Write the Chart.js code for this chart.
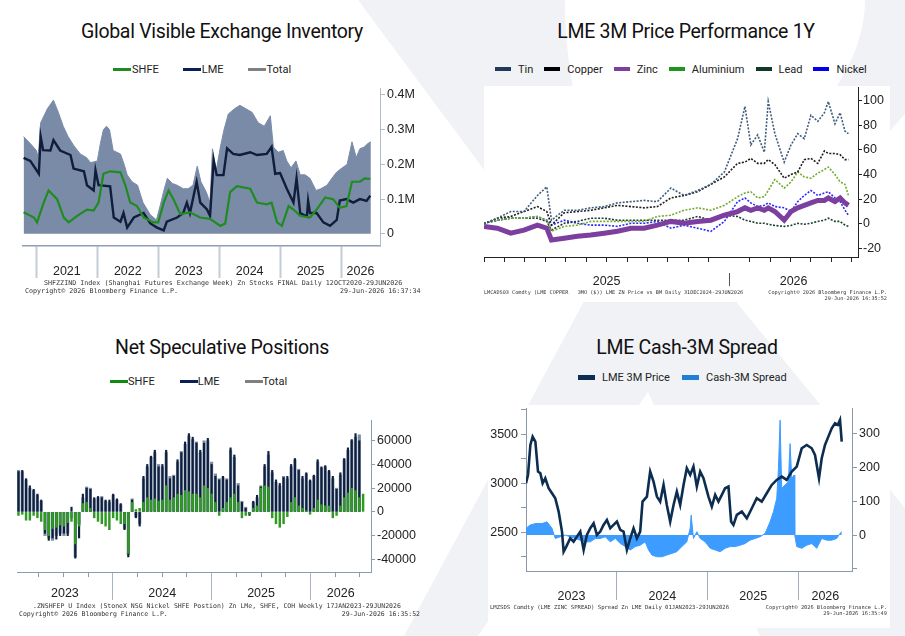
<!DOCTYPE html>
<html>
<head>
<meta charset="utf-8">
<script src="https://cdn.jsdelivr.net/npm/chart.js@4.4.1/dist/chart.umd.min.js"></script>
<style>
html, body { margin: 0; padding: 0; background: #fff; }
body { width: 905px; height: 636px; position: relative; overflow: hidden; font-family: "Liberation Sans", Arial, sans-serif; }
.bg { position: absolute; left: 0; top: 0; }
.box { position: absolute; background: #fff; }
.title { position: absolute; width: 450px; height: 24px; line-height: 24px; text-align: center; font-family: Roboto, sans-serif; font-size: 19.5px; color: #111; letter-spacing: -0.3px; white-space: nowrap; }
.legend { position: absolute; height: 14px; display: flex; align-items: center; font-family: Roboto, sans-serif; font-size: 11px; color: #222; white-space: nowrap; }
.legend .item { display: flex; align-items: center; }
.legend i { display: inline-block; }
.foot { position: absolute; font-family: "DejaVu Sans Mono", monospace; color: #333; white-space: nowrap; line-height: 1; }
canvas { position: absolute; }
</style>
</head>
<body>

<svg class="bg" width="905" height="636">
  <g fill="#f0f2f5">
    <path d="M358,0 L905,0 L905,114 L737,303 L583,303 Z"/>
    <path d="M583,303 L737,303 L1010,636 L404,636 Z"/>
  </g>
  <path fill="#fff" d="M565,0 L865,0 C865,110 720,200 660,255 C600,200 565,110 565,0 Z"/>
  <path fill="#fff" d="M648,392 L760,636 L478,636 Z"/>
</svg>
<div class="box" style="left:484px;top:86px;width:406px;height:216px"></div>
<div class="box" style="left:488px;top:405px;width:402px;height:223px"></div>

<div class="title" style="left:-3px;top:20px">Global Visible Exchange Inventory</div>
<div class="title" style="left:461px;top:20px">LME 3M Price Performance 1Y</div>
<div class="title" style="left:-3px;top:336px">Net Speculative Positions</div>
<div class="title" style="left:462px;top:336px">LME Cash-3M Spread</div>

<div class="legend" id="lg1" style="left:113px;top:62px"></div>
<div class="legend" id="lg2" style="left:495px;top:62px"></div>
<div class="legend" id="lg3" style="left:110px;top:374px"></div>
<div class="legend" id="lg4" style="left:578px;top:370px"></div>

<canvas id="c1" width="405" height="206" style="left:15px;top:80px"></canvas>
<canvas id="c2" width="422" height="215" style="left:476px;top:80px"></canvas>
<canvas id="c3" width="411" height="193" style="left:10px;top:412px"></canvas>
<canvas id="c4" width="412" height="206" style="left:480px;top:400px"></canvas>

<div class="foot" style="left:44px;top:280px;font-size:6.7px">SHFZZIND Index (Shanghai Futures Exchange Week) Zn Stocks FINAL Daily 12OCT2020-29JUN2026</div>
<div class="foot" style="left:25px;top:288px;font-size:6.7px">Copyright© 2026 Bloomberg Finance L.P.</div>
<div class="foot" style="left:340px;top:288px;width:80px;text-align:right;font-size:6.7px">29-Jun-2026 16:37:34</div>

<div class="foot" style="left:484px;top:290px;font-size:5.2px">LMCADS03 Comdty (LME COPPER&nbsp;&nbsp;&nbsp;3MO ($)) LME ZN Price vs BM Daily 31DEC2024-29JUN2026</div>
<div class="foot" style="left:740px;top:290px;width:147px;text-align:right;font-size:5.2px">Copyright© 2026 Bloomberg Finance L.P.</div>
<div class="foot" style="left:740px;top:296px;width:147px;text-align:right;font-size:5.2px">29-Jun-2026 16:35:52</div>

<div class="foot" style="left:33px;top:603px;font-size:6.5px">.ZNSHFEP U Index (StoneX NSG Nickel SHFE Postion) Zn LMe, SHFE, COH Weekly 17JAN2023-29JUN2026</div>
<div class="foot" style="left:19px;top:611px;font-size:6.5px">Copyright© 2026 Bloomberg Finance L.P.</div>
<div class="foot" style="left:320px;top:611px;width:100px;text-align:right;font-size:6.5px">29-Jun-2026 16:35:52</div>

<div class="foot" style="left:490px;top:605px;font-size:5.6px">LMZSDS Comdty (LME ZINC SPREAD) Spread Zn LME Daily 01JAN2023-29JUN2026</div>
<div class="foot" style="left:740px;top:605px;width:147px;text-align:right;font-size:5.3px">Copyright© 2026 Bloomberg Finance L.P.</div>
<div class="foot" style="left:740px;top:611px;width:147px;text-align:right;font-size:5.3px">29-Jun-2026 16:35:49</div>

<script>
// ---- Global Visible Exchange Inventory (million tonnes, decimal years) ----
var invTotalT = [2020.79,2020.90,2021.00,2021.03,2021.07,2021.18,2021.28,2021.36,2021.44,2021.52,2021.61,2021.72,2021.82,2021.89,2022.00,2022.05,2022.10,2022.15,2022.20,2022.26,2022.38,2022.44,2022.49,2022.57,2022.66,2022.75,2022.87,2022.97,2023.03,2023.10,2023.15,2023.23,2023.31,2023.41,2023.49,2023.57,2023.64,2023.70,2023.79,2023.85,2023.89,2023.95,2024.02,2024.08,2024.15,2024.25,2024.34,2024.44,2024.54,2024.64,2024.74,2024.84,2024.89,2024.97,2025.05,2025.11,2025.18,2025.26,2025.33,2025.41,2025.49,2025.59,2025.67,2025.77,2025.85,2025.93,2026.02,2026.10,2026.15,2026.18,2026.25,2026.31,2026.38,2026.44,2026.49];
var invTotal = [0.28,0.26,0.24,0.22,0.32,0.36,0.385,0.35,0.31,0.28,0.255,0.23,0.22,0.205,0.21,0.26,0.30,0.31,0.30,0.24,0.23,0.20,0.17,0.15,0.14,0.09,0.055,0.04,0.08,0.13,0.16,0.145,0.14,0.13,0.13,0.14,0.195,0.15,0.12,0.09,0.245,0.18,0.25,0.30,0.345,0.36,0.37,0.36,0.35,0.32,0.31,0.34,0.25,0.235,0.24,0.21,0.19,0.21,0.17,0.17,0.16,0.125,0.13,0.14,0.16,0.178,0.19,0.20,0.24,0.265,0.22,0.245,0.25,0.26,0.265];
var invLmeT = [2020.79,2020.90,2021.04,2021.07,2021.11,2021.23,2021.28,2021.39,2021.56,2021.61,2021.78,2021.83,2021.94,2021.97,2022.02,2022.21,2022.27,2022.38,2022.43,2022.49,2022.60,2022.76,2022.87,2022.98,2023.09,2023.14,2023.31,2023.41,2023.47,2023.52,2023.63,2023.69,2023.80,2023.85,2023.91,2023.96,2024.07,2024.13,2024.23,2024.34,2024.51,2024.62,2024.78,2024.86,2024.92,2025.00,2025.11,2025.22,2025.27,2025.33,2025.44,2025.46,2025.49,2025.60,2025.71,2025.82,2025.93,2025.98,2026.09,2026.20,2026.31,2026.42,2026.48];
var invLme = [0.219,0.21,0.173,0.28,0.241,0.24,0.27,0.24,0.227,0.188,0.18,0.14,0.125,0.183,0.14,0.137,0.047,0.035,0.06,0.018,0.047,0.06,0.03,0.018,0.01,0.035,0.047,0.06,0.09,0.06,0.15,0.09,0.07,0.052,0.212,0.169,0.169,0.246,0.23,0.227,0.235,0.227,0.23,0.25,0.173,0.175,0.13,0.09,0.16,0.06,0.05,0.095,0.06,0.06,0.033,0.023,0.04,0.096,0.1,0.09,0.1,0.095,0.11];
var invShfeT = [2020.79,2020.96,2021.01,2021.12,2021.20,2021.34,2021.45,2021.53,2021.67,2021.83,2021.94,2022.02,2022.10,2022.21,2022.38,2022.46,2022.54,2022.65,2022.76,2022.92,2023.00,2023.09,2023.17,2023.25,2023.36,2023.52,2023.69,2023.85,2024.02,2024.10,2024.18,2024.29,2024.51,2024.62,2024.78,2024.86,2024.95,2025.03,2025.14,2025.22,2025.33,2025.49,2025.60,2025.74,2025.87,2025.98,2026.09,2026.18,2026.31,2026.39,2026.48];
var invShfe = [0.062,0.047,0.033,0.09,0.125,0.1,0.047,0.033,0.052,0.07,0.067,0.09,0.173,0.18,0.177,0.14,0.09,0.08,0.047,0.033,0.033,0.09,0.125,0.1,0.057,0.062,0.047,0.043,0.023,0.03,0.12,0.137,0.13,0.09,0.085,0.09,0.033,0.023,0.08,0.07,0.052,0.047,0.07,0.105,0.1,0.075,0.08,0.15,0.15,0.16,0.158];

// ---- LME 3M Price Performance 1Y (% change) ----
var perfT = [2025.000,2025.054,2025.109,2025.163,2025.218,2025.256,2025.275,2025.327,2025.381,2025.435,2025.490,2025.544,2025.599,2025.653,2025.707,2025.762,2025.816,2025.871,2025.925,2025.980,2026.034,2026.064,2026.088,2026.116,2026.143,2026.159,2026.186,2026.224,2026.252,2026.279,2026.306,2026.333,2026.361,2026.388,2026.404,2026.431,2026.452,2026.472,2026.486];
var tin = [0,4.6,10,10,23,30,3,11,11,13,14,17,18,19,18,29,23,27,32,42,69,95,64,72,58,99,73,50,64,73,69,88,83,90,99,81,90,75,73];
var copper = [0,4.6,6,10,14,10,-1,9,10,11,13,15,14,13,14,21,23,26,32,38,49,50,53,49,49,52,48,37,40,42,52,53,49,59,57,57,56,52,52];
var zinc = [-2,-3.5,-7.5,-5,-1,-3.5,-13,-11.6,-10,-9,-7.5,-6,-3.5,-3.5,-1,2,0.5,2,3,7,10,13,11,13,11,13,10,3,10,13,15,17,19,19,21,18,21,17,15];
var aluminium = [0.5,3,4.6,4.6,6,3,-6,-2,-1,2,2,2,2,2,6,7,11,13,11,15,22,25,26,21,22,27,36,29,34,42,38,37,41,44,46,40,34,32,23];
var lead = [0.5,3,4.6,4.6,4.6,2,-5,0.5,2,4.6,4.6,3,3,3,3,3,3,6,3,7,6,3,2,0.5,0.5,-0.3,-1.3,-2,-1.3,0.5,-0.3,0.5,2,3,4.6,2,2,-1,-2];
var nickel = [0.5,3,4.6,4.6,6,3,-1,3,0.5,-1,-1,-2,0.5,0.5,2,-3.5,-1,-3.5,-6,2,18,21,17,14,15,17,14,13,10,18,23,27,23,25,26,21,18,11,7];

// ---- Net Speculative Positions (thousand lots, fortnightly from 17 Jan 2023) ----
var specStart = 2023.045, specStepDays = 14;
var specShfe = [-3,-2,-7,-7,-3,-5,-8,-15,-20,-14, -13,-11,-12,-9,-8,-27,-12,7,8,3, -5,-8,-10,-12,-15,-5,-7,-10,-10,-35, 8,2,3,8,12,10,11,9,10,22, 10,12,15,14,18,17,15,15,12,22, 20,15,8,-3,3,8,12,15,8,-5, -3,-2,3,5,20,22,21,-5,-10,-13, -10,-4,8,12,5,3,1,-2,3,10, 6,5,5,-5,-3,5,12,16,20,18, 12,15];
var specLme = [34,35,28,22,19,15,10,-18,-24,-22, -23,-20,-18,-20,4,-39,-22,15,20,19, 12,13,12,10,10,15,11,7,-15,-38, 10,-5,-12,30,40,47,52,38,40,52, 28,30,44,50,59,66,63,58,52,58, 62,40,30,27,30,27,54,48,22,8, 3,-3,9,14,21,40,51,35,27,24, 29,30,40,45,35,30,33,27,31,44, 38,39,35,30,19,33,45,54,61,66, 60,null];
var specTotal = [35,34,27,20,18,14,9,-20,-22,-24, -20,-18,-20,-18,-5,-38,-10,12,21,20, 11,12,13,9,8,14,10,6,-14,-36, 11,-4,-10,28,38,46,50,40,38,50, 30,31,42,51,57,64,61,59,50,60, 60,42,32,28,29,28,52,46,24,9, 4,-2,8,12,22,38,48,33,25,22, 30,28,38,44,36,28,32,26,30,42, 37,38,34,28,20,31,44,52,60,63, 65,null];

// ---- LME Cash-3M Spread ----
var priceT = [2023.000,2023.022,2023.048,2023.073,2023.103,2023.132,2023.158,2023.183,2023.212,2023.249,2023.286,2023.322,2023.359,2023.396,2023.414,2023.443,2023.487,2023.524,2023.560,2023.597,2023.634,2023.670,2023.707,2023.744,2023.780,2023.817,2023.853,2023.890,2023.927,2023.963,2024.000,2024.037,2024.073,2024.110,2024.147,2024.183,2024.220,2024.256,2024.282,2024.330,2024.366,2024.403,2024.440,2024.476,2024.513,2024.549,2024.586,2024.623,2024.659,2024.696,2024.733,2024.769,2024.806,2024.842,2024.879,2024.916,2024.952,2025.007,2025.044,2025.081,2025.117,2025.154,2025.190,2025.227,2025.256,2025.282,2025.319,2025.374,2025.429,2025.484,2025.538,2025.593,2025.648,2025.703,2025.758,2025.813,2025.868,2025.923,2025.978,2026.033,2026.088,2026.143,2026.179,2026.223,2026.253,2026.289,2026.326,2026.363,2026.399,2026.429,2026.454,2026.473];
var price = [3000,3085,3391,3476,3425,3119,3102,3000,3051,2949,2898,2847,2711,2507,2303,2354,2439,2405,2456,2507,2320,2473,2541,2592,2473,2507,2575,2626,2541,2575,2609,2524,2507,2320,2439,2541,2439,2507,2813,2864,3119,3017,2864,2813,2983,2779,2609,2779,2915,2779,2983,3153,3085,3170,2966,3119,3051,2864,2762,2881,2813,2881,2949,2966,2609,2575,2677,2711,2643,2745,2847,2813,2898,2983,3034,3068,3034,3119,3170,3357,3391,3357,3289,3051,3255,3391,3476,3561,3612,3595,3646,3425];
var spreadT = [2023.000,2023.048,2023.103,2023.176,2023.231,2023.286,2023.322,2023.377,2023.432,2023.487,2023.542,2023.597,2023.652,2023.707,2023.762,2023.817,2023.872,2023.927,2023.982,2024.037,2024.092,2024.147,2024.201,2024.256,2024.311,2024.348,2024.385,2024.440,2024.495,2024.549,2024.604,2024.659,2024.714,2024.769,2024.806,2024.817,2024.842,2024.879,2024.916,2024.971,2025.026,2025.081,2025.136,2025.190,2025.245,2025.300,2025.355,2025.410,2025.465,2025.520,2025.575,2025.630,2025.685,2025.722,2025.758,2025.777,2025.795,2025.813,2025.850,2025.886,2025.905,2025.923,2025.949,2025.956,2025.978,2026.033,2026.088,2026.143,2026.198,2026.253,2026.308,2026.363,2026.418,2026.454,2026.473];
var spread = [20,30,34,34,39,20,-10,-5,0,-5,-10,-15,-20,-20,-10,-10,-5,-20,-10,-25,-34,-44,-34,-30,-20,-44,-59,-64,-64,-59,-54,-49,-34,-20,20,59,-10,10,-10,-20,-39,-44,-49,-39,-34,-34,-30,-25,-15,-10,-5,5,39,69,108,197,339,138,148,157,270,167,177,0,-34,-39,-30,-25,-39,-10,-15,-15,-10,5,10];

Chart.defaults.font.family = "'Liberation Sans', Arial, sans-serif";
Chart.defaults.color = '#222';
Chart.defaults.animation = false;
Chart.defaults.events = [];
Chart.defaults.plugins.legend.display = false;
Chart.defaults.plugins.tooltip.enabled = false;
Chart.defaults.elements.point.radius = 0;
Chart.defaults.elements.line.tension = 0;

function pts(xs, ys) {
    return xs.map(function (x, i) { return { x: x, y: ys[i] }; });
}

// value axis with fixed width so the plot area lands where the picture has it
function valueAxis(o) {
    return {
        type: 'linear', position: o.position, min: o.min, max: o.max,
        afterFit: function (s) { s.width = o.width; s.paddingTop = 0; s.paddingBottom = 0; },
        border: { color: o.color, width: o.borderWidth || 1 },
        grid: { drawOnChartArea: false, tickLength: o.tick || 5, tickColor: o.color },
        ticks: { stepSize: o.step, includeBounds: false, padding: o.pad || 2, color: '#222', font: { size: 12.5 }, callback: o.fmt }
    };
}

// time axis in decimal years: year separators, optional minor ticks, year label centred in each year
function yearAxis(o) {
    var marks = [];
    var y, v;
    for (y = Math.ceil(o.min); y <= o.max; y++) {
        if (y > o.min) marks.push({ v: y, k: 'sep' });
    }
    if (o.minorStep) {
        for (y = Math.floor(o.min); y <= o.max; y++) {
            for (var m = 0; m < 1 - 1e-9; m += o.minorStep) {
                v = y + m;
                if (m === 0 && v > o.min) continue;
                if (v >= o.min - 1e-9 && v < o.max) marks.push({ v: v, k: 'minor' });
            }
        }
    }
    for (y = Math.floor(o.min); y < o.max; y++) {
        var a = Math.max(y, o.min), b = Math.min(y + 1, o.max);
        if (b - a > 0.3) marks.push({ v: (a + b) / 2, k: 'label', t: String(y) });
    }
    marks.sort(function (p, q) { return p.v - q.v; });
    function kind(c) { var mk = marks[c.index]; return mk ? mk.k : 'label'; }
    return {
        type: 'linear', position: 'bottom', min: o.min, max: o.max, offset: false,
        afterBuildTicks: function (s) { s.ticks = marks.map(function (mk) { return { value: mk.v }; }); },
        afterFit: function (s) { s.height = o.height; s.paddingLeft = 0; s.paddingRight = 0; },
        border: { color: o.axisColor, width: o.axisWidth || 1 },
        grid: {
            offset: false,
            drawOnChartArea: false,
            tickLength: o.sepLen,
            tickWidth: function (c) { return kind(c) === 'sep' ? (o.sepWidth || 1) : 1; },
            tickColor: function (c) {
                var k = kind(c);
                return k === 'label' ? 'rgba(0,0,0,0)' : (k === 'sep' ? o.sepColor : o.minorColor);
            },
            tickBorderDash: function (c) {
                var k = kind(c);
                return k === 'minor' ? [o.minorLen || 4, 300] : (k === 'sep' && o.sepDash ? o.sepDash : []);
            }
        },
        ticks: {
            autoSkip: false, maxRotation: 0, minRotation: 0, padding: o.labelPad, color: '#222', font: { size: 12.5 },
            callback: function (val, i) { return marks[i] && marks[i].k === 'label' ? marks[i].t : ''; }
        }
    };
}

function htmlLegend(chart, id, o) {
    var box = document.getElementById(id);
    chart.data.datasets.forEach(function (ds) {
        var item = document.createElement('span');
        item.className = 'item';
        item.style.marginRight = o.gap + 'px';
        var mk = document.createElement('i');
        mk.style.width = o.mw + 'px';
        mk.style.height = o.mh + 'px';
        mk.style.marginRight = o.mg + 'px';
        mk.style.background = ds.legendColor || ds.borderColor;
        item.appendChild(mk);
        item.appendChild(document.createTextNode(ds.label));
        box.appendChild(item);
    });
}

// Panel 1: inventory
var chart1 = new Chart(document.getElementById('c1'), {
    type: 'line',
    data: {
        datasets: [
            { label: 'SHFE', data: pts(invShfeT, invShfe), borderColor: '#1f8c1f', borderWidth: 2.2, fill: false },
            { label: 'LME', data: pts(invLmeT, invLme), borderColor: '#101d3b', legendColor: '#0a1f55', borderWidth: 2.4, fill: false },
            { label: 'Total', data: pts(invTotalT, invTotal), borderColor: '#7a8ba8', legendColor: '#808080', backgroundColor: '#7a8ba8', borderWidth: 1, fill: 'origin' }
        ]
    },
    options: {
        responsive: false, devicePixelRatio: 1,
        layout: { padding: { left: 8, top: 8, right: 0, bottom: 0 } },
        scales: {
            x: yearAxis({ min: 2020.78, max: 2026.64, height: 40, sepLen: 32, sepColor: '#c3ccd7', sepWidth: 2, axisColor: '#8e9db0', axisWidth: 1.5, labelPad: -14 }),
            y: valueAxis({ position: 'right', min: -0.035, max: 0.42, step: 0.1, width: 40, color: '#b3bdc9', pad: 2,
                fmt: function (v) { return v === 0 ? '0' : v.toFixed(1) + 'M'; } })
        }
    }
});
htmlLegend(chart1, 'lg1', { gap: 24, mw: 18, mh: 3, mg: 1 });

// Panel 2: price performance
function dotted(label, values, color, legendColor) {
    return { label: label, data: pts(perfT, values), borderColor: color, legendColor: legendColor, borderWidth: 1.6, borderDash: [2, 1.5], fill: false };
}
var chart2 = new Chart(document.getElementById('c2'), {
    type: 'line',
    data: {
        datasets: [
            dotted('Tin', tin, '#3f5d7e', '#1f3a5a'),
            dotted('Copper', copper, '#1c1c1c', '#000000'),
            { label: 'Zinc', data: pts(perfT, zinc), borderColor: '#7d3f9f', borderWidth: 5, fill: false, order: -1 },
            dotted('Aluminium', aluminium, '#74ab30', '#1e961e'),
            dotted('Lead', lead, '#1a4030', '#0f3a25'),
            dotted('Nickel', nickel, '#2a2aff', '#0000ee')
        ]
    },
    options: {
        responsive: false, devicePixelRatio: 1,
        layout: { padding: { left: 8, top: 7, right: 0, bottom: 0 } },
        scales: {
            x: yearAxis({ min: 2025.0, max: 2026.525, height: 38, sepLen: 30, sepColor: '#555', sepDash: [0, 15, 13, 100], minorStep: 1 / 12, minorLen: 4, minorColor: '#222', axisColor: '#222', labelPad: -13 }),
            y: valueAxis({ position: 'right', min: -26.8, max: 110.8, step: 20, width: 40, color: '#222', tick: 4, pad: 1,
                fmt: function (v) { return String(v); } })
        }
    }
});
htmlLegend(chart2, 'lg2', { gap: 11, mw: 16, mh: 4, mg: 7 });

// Panel 3: net speculative positions
var specT = specLme.map(function (v, i) { return +(specStart + i * specStepDays / 365.25).toFixed(4); });
var chart3 = new Chart(document.getElementById('c3'), {
    type: 'bar',
    data: {
        datasets: [
            { label: 'SHFE', data: pts(specT, specShfe), backgroundColor: '#2f9a22', borderColor: '#108a10', grouped: false, barThickness: 1.8 },
            { label: 'LME', data: pts(specT, specLme), backgroundColor: '#0e1f40', borderColor: '#0a1f55', grouped: false, barThickness: 1.5 },
            { label: 'Total', data: pts(specT, specTotal), backgroundColor: '#7d8da3', borderColor: '#808080', grouped: false, barThickness: 2.5 }
        ]
    },
    options: {
        responsive: false, devicePixelRatio: 1,
        layout: { padding: { left: 7, top: 8, right: 0, bottom: 0 } },
        scales: {
            x: yearAxis({ min: 2023.03, max: 2026.613, height: 33, sepLen: 28, sepColor: '#a9b5c3', minorStep: 0.25, minorLen: 4, minorColor: '#8b9bb0', axisColor: '#8b9bb0', labelPad: -14 }),
            y: valueAxis({ position: 'right', min: -50.7, max: 77.5, step: 20, width: 50, color: '#8b9bb0', tick: 4, pad: 2,
                fmt: function (v) { return String(Math.round(v * 1000)); } })
        }
    }
});
htmlLegend(chart3, 'lg3', { gap: 25, mw: 18, mh: 3, mg: 0 });

// Panel 4: cash-3M spread
var chart4 = new Chart(document.getElementById('c4'), {
    type: 'line',
    data: {
        datasets: [
            { label: 'LME 3M Price', data: pts(priceT, price), yAxisID: 'yL', borderColor: '#0c2c50', legendColor: '#0f2f52', borderWidth: 2.6, fill: false },
            { label: 'Cash-3M Spread', data: pts(spreadT, spread), yAxisID: 'yR', borderColor: '#3d9cff', legendColor: '#1f7fd6', backgroundColor: '#3d9cff', borderWidth: 1, fill: 'origin' }
        ]
    },
    options: {
        responsive: false, devicePixelRatio: 1,
        layout: { padding: { left: 6, top: 8, right: 0, bottom: 0 } },
        scales: {
            x: yearAxis({ min: 2023.0, max: 2026.586, height: 35, sepLen: 29, sepColor: '#a3adb9', axisColor: '#8a98a8', labelPad: -11 }),
            yL: valueAxis({ position: 'left', min: 2105, max: 3768, step: 250, width: 40, color: '#8a98a8', tick: 5, pad: 3,
                fmt: function (v) { return v % 500 === 0 ? String(v) : ''; } }),
            yR: valueAxis({ position: 'right', min: -106, max: 375, step: 100, width: 40, color: '#8a98a8', tick: 5, pad: 2,
                fmt: function (v) { return v < 0 ? '' : String(v); } })
        }
    }
});
htmlLegend(chart4, 'lg4', { gap: 12, mw: 17, mh: 5, mg: 7 });
</script>
</body>
</html>
